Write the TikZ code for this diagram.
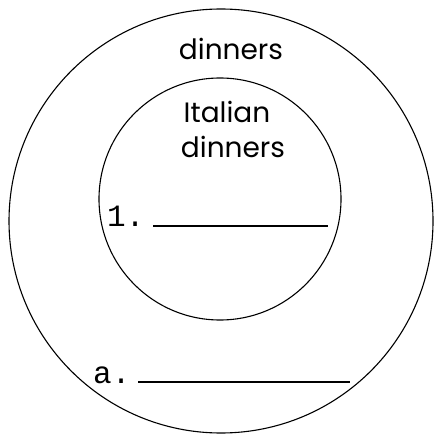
\documentclass[tikz,border=0pt]{standalone}
\usepackage{fontspec}
\setmainfont{Poppins}
\newfontfamily\blankfont{Liberation Mono}
\usepackage{tikz}

\begin{document}
\begin{tikzpicture}[x=1pt, y=-1pt,
    ring/.style={black, line width=1.1pt},
    blank/.style={black, line width=1.1pt},
    setname/.style={anchor=base, inner sep=0pt, font=\fontsize{28}{30}\selectfont},
    itemname/.style={anchor=base west, inner sep=0pt, font=\blankfont\fontsize{31}{33}\selectfont}]
  \useasboundingbox (0,0) rectangle (435,435);

  % the two sets
  \coordinate (outerc) at (221,221);
  \coordinate (innerc) at (220,199);
  \draw[ring] (outerc) circle (212);
  \draw[ring] (innerc) circle (121);

  % set names
  \node[setname] (dinners) at (231,60) {dinners};
  \node[setname] (italian) at (227,123) {Italian};
  \node[setname] (idinners) at (233,158) {dinners};

  % blanks to fill in
  \node[itemname] (one) at (107,226) {1.};
  \coordinate (oneA) at (153,226);
  \coordinate (oneB) at (328,226);
  \draw[blank] (oneA) -- (oneB);

  \node[itemname] (aa) at (93,383) {a.};
  \coordinate (aaA) at (138,382);
  \coordinate (aaB) at (350,382);
  \draw[blank] (aaA) -- (aaB);
\end{tikzpicture}
\end{document}
